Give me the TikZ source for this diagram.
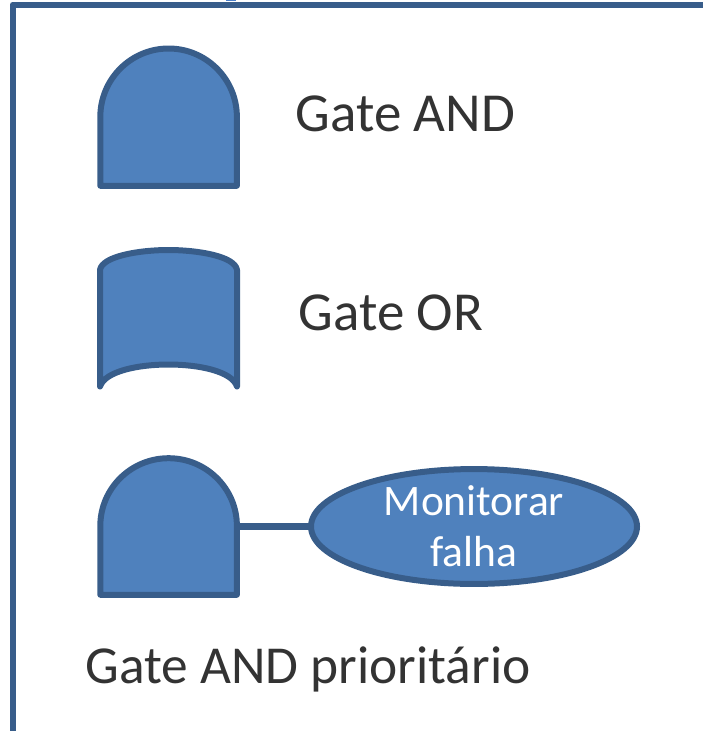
\documentclass[tikz,border=0pt]{standalone}
\usepackage{fontspec}
\setmainfont{Carlito}
\usetikzlibrary{shapes.geometric}
\definecolor{gatefill}{HTML}{4F81BD}
\definecolor{gateline}{HTML}{385D8A}
\definecolor{labeltext}{HTML}{333333}
\definecolor{clipmark}{HTML}{4A7EC8}
\tikzset{
  gateshape/.style={fill=gatefill,draw=gateline,line width=6pt,line join=round,line cap=round},
  framebox/.style={draw=gateline,line width=6pt,line join=round},
  linkline/.style={draw=gateline,line width=7pt},
  gatelabel/.style={text=labeltext,font=\fontsize{55}{60}\selectfont,inner sep=0pt,anchor=base west},
  ovalnode/.style={ellipse,fill=gatefill,draw=gateline,line width=6pt,minimum width=326pt,minimum height=111pt,inner sep=0pt,
    text=white,align=center,font=\fontsize{43.5}{51}\selectfont}
}
\begin{document}
\begin{tikzpicture}[x=1pt,y=-1pt]
\useasboundingbox (0,0) rectangle (703,731);
\clip (0,0) rectangle (703,731);
\fill[clipmark] (226,0) rectangle (236,1.2);
\draw[framebox] (12.5,760) -- (12.5,4.5) -- (720,4.5);
\draw[gateshape] (100.3,185.8) -- (100.3,117) arc[start angle=180,end angle=360,x radius=68.3,y radius=68.5] -- (236.9,185.8) -- cycle;
\draw[gateshape] (100,386.5) -- (100,270) .. controls (102,256) and (140,250) .. (168.5,250) .. controls (197,250) and (235,256) .. (237,270) -- (237,386.5) .. controls (232,371) and (198,364.5) .. (168.5,364.5) .. controls (139,364.5) and (105,371) .. (100,386.5) -- cycle;
\draw[gateshape] (100.3,594.8) -- (100.3,526) arc[start angle=180,end angle=360,x radius=68.3,y radius=67.8] -- (236.9,594.8) -- cycle;
\node[ovalnode] (oval) at (474,526.5) {Monitorar\\falha};
\coordinate (gateside) at (236.9,526.5);
\draw[linkline] (gateside) -- (oval.west);
\node[gatelabel] (t1) at (295.5,131) {Gate AND};
\node[gatelabel] (t2) at (298.5,330) {Gate OR};
\node[gatelabel,font=\fontsize{53.4}{60}\selectfont] (t3) at (85.5,683) {Gate AND prioritário};
\end{tikzpicture}
\end{document}
